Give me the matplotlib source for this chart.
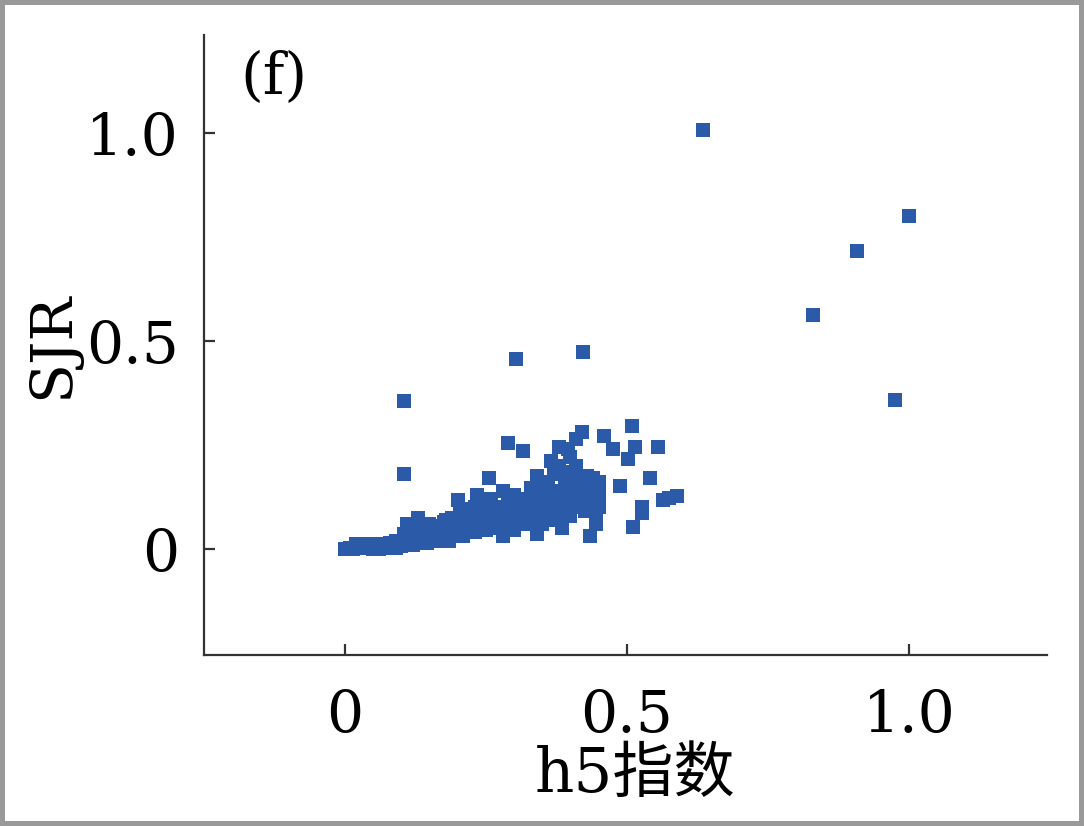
import matplotlib.pyplot as plt

# h5 index (x) and SJR (y), normalised values
h5 = [0.0, 0.01, 0.015, 0.02, 0.025, 0.03, 0.035, 0.04, 0.045, 0.05, 0.05,
      0.055, 0.06, 0.065, 0.07, 0.075, 0.08, 0.085, 0.09, 0.095, 0.1, 0.1,
      0.105, 0.11, 0.11, 0.115, 0.12, 0.125, 0.13, 0.13, 0.135, 0.14, 0.145, 0.15, 0.15,
      0.155, 0.16, 0.165, 0.17, 0.175, 0.18, 0.185, 0.19, 0.19, 0.195, 0.2, 0.2, 0.2,
      0.205, 0.21, 0.215, 0.22, 0.225, 0.23, 0.235, 0.24, 0.24, 0.245, 0.25, 0.25,
      0.255, 0.26, 0.26, 0.265, 0.27, 0.275, 0.28, 0.28, 0.285, 0.29, 0.29, 0.295, 0.3, 0.3,
      0.305, 0.31, 0.315, 0.32, 0.32, 0.325, 0.33, 0.335, 0.34, 0.34, 0.345, 0.35, 0.35,
      0.355, 0.36, 0.365, 0.37, 0.375, 0.38, 0.38, 0.385, 0.39, 0.39, 0.395, 0.4, 0.4, 0.4,
      0.405, 0.41, 0.41, 0.415, 0.42, 0.42, 0.425, 0.43, 0.43, 0.435, 0.44, 0.44, 0.445, 0.45, 0.45,
      0.02, 0.04, 0.06, 0.08, 0.09, 0.12, 0.14, 0.16, 0.17, 0.18, 0.21, 0.22, 0.23, 0.24,
      0.26, 0.27, 0.28, 0.3, 0.31, 0.33, 0.34, 0.35, 0.36, 0.36, 0.37, 0.38, 0.39, 0.4,
      0.41, 0.42, 0.43, 0.44, 0.45, 0.445, 0.38, 0.365, 0.395, 0.4,
      0.46, 0.475, 0.488, 0.502, 0.509, 0.514, 0.511, 0.527, 0.527, 0.541, 0.555, 0.564, 0.575, 0.589,
      0.105, 0.105, 0.303, 0.422, 0.635, 0.83, 0.908, 0.975, 1.0]
sjr = [0.0, 0.002, 0.0, 0.004, 0.001, 0.003, 0.006, 0.002, 0.005, 0.01, 0.0,
       0.004, 0.008, 0.012, 0.003, 0.01, 0.006, 0.015, 0.002, 0.012, 0.008, 0.02,
       0.035, 0.06, 0.015, 0.025, 0.01, 0.04, 0.075, 0.02, 0.05, 0.03, 0.015, 0.045, 0.06,
       0.025, 0.04, 0.055, 0.03, 0.065, 0.045, 0.02, 0.075, 0.05, 0.035, 0.118, 0.06, 0.04,
       0.085, 0.03, 0.07, 0.05, 0.095, 0.04, 0.13, 0.075, 0.06, 0.11, 0.045, 0.09,
       0.17, 0.12, 0.065, 0.08, 0.1, 0.05, 0.14, 0.03, 0.09, 0.255, 0.11, 0.07, 0.13, 0.045,
       0.1, 0.075, 0.235, 0.12, 0.06, 0.09, 0.145, 0.11, 0.175, 0.035, 0.08, 0.13, 0.1,
       0.16, 0.07, 0.12, 0.09, 0.14, 0.245, 0.2, 0.05, 0.17, 0.11, 0.08, 0.22, 0.15, 0.12,
       0.185, 0.265, 0.1, 0.14, 0.28, 0.16, 0.09, 0.125, 0.175, 0.03, 0.11, 0.15, 0.085, 0.13, 0.1,
       0.012, 0.012, 0.0, 0.015, 0.018, 0.03, 0.05, 0.02, 0.05, 0.07, 0.06, 0.08, 0.1, 0.045,
       0.1, 0.075, 0.06, 0.09, 0.12, 0.07, 0.14, 0.06, 0.1, 0.15, 0.18, 0.13, 0.14, 0.08,
       0.2, 0.12, 0.14, 0.17, 0.16, 0.06, 0.07, 0.21, 0.24, 0.18,
       0.27, 0.24, 0.15, 0.215, 0.295, 0.245, 0.053, 0.1, 0.085, 0.17, 0.245, 0.118, 0.122, 0.126,
       0.356, 0.18, 0.457, 0.474, 1.005, 0.5625, 0.716, 0.358, 0.80]

ticks = [0, 0.5, 1.0]
tick_labels = ['0', '0.5', '1.0']

plt.rcParams['font.family'] = ['DejaVu Serif', 'Noto Sans CJK SC']

fig = plt.figure(figsize=(10.84, 8.26), dpi=100)
fig.patch.set_edgecolor('#999999')
fig.patch.set_linewidth(6)
ax = fig.add_axes([0.188, 0.207, 0.778, 0.751])

ax.scatter(h5, sjr, marker='s', s=110, color='#2b5ba8', linewidths=0)

ax.set_xlim(-0.25, 1.245)
ax.set_ylim(-0.255, 1.235)
ax.set_xticks(ticks)
ax.set_xticklabels(tick_labels)
ax.set_yticks(ticks)
ax.set_yticklabels(tick_labels)

for side in ['top', 'right']:
    ax.spines[side].set_visible(False)
for side in ['left', 'bottom']:
    ax.spines[side].set_color('#333333')
    ax.spines[side].set_linewidth(1.6)

ax.tick_params(axis='x', direction='in', length=8, width=1.6, color='#333333',
               labelsize=42, pad=24)
ax.tick_params(axis='y', direction='in', length=8, width=1.6, color='#333333',
               labelsize=42, pad=18)

ax.set_xlabel('h5指数', fontsize=44)
ax.set_ylabel('SJR', fontsize=42)
ax.xaxis.set_label_coords(0.511, -0.145)
ax.yaxis.set_label_coords(-0.147, 0.5)
ax.text(0.043, 0.975, '(f)', transform=ax.transAxes, fontsize=42, va='top', ha='left')

fig.savefig('out.png', dpi=100)
